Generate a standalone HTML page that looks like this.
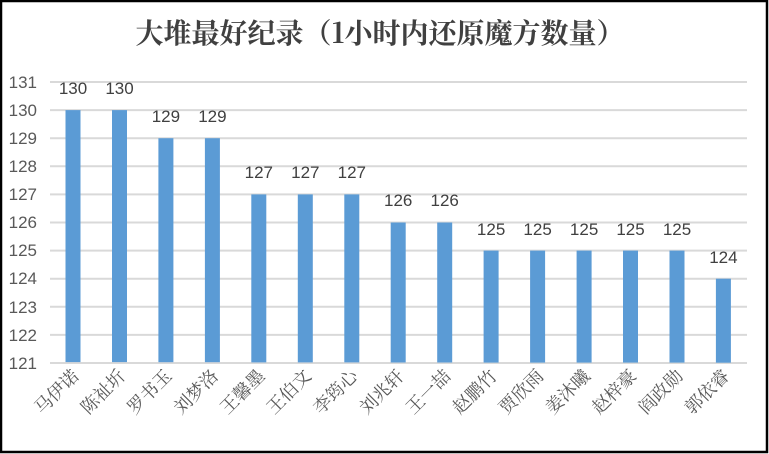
<!DOCTYPE html>
<html><head><meta charset="utf-8"><style>
html,body{margin:0;padding:0;background:#fff}
svg{display:block}
</style></head><body>
<svg width="769" height="454" xmlns="http://www.w3.org/2000/svg">
<rect x="1" y="1" width="766" height="451" fill="#fff" stroke="#000" stroke-width="2.5"/>
<text x="380" y="43" text-anchor="middle" font-family="'Noto Serif CJK SC','Liberation Serif',serif" font-weight="bold" font-size="28" fill="#404040">大堆最好纪录（1小时内还原魔方数量）</text>
<g stroke="#d9d9d9" stroke-width="2">
<line x1="50" x2="747" y1="82" y2="82"/><line x1="50" x2="747" y1="110.1" y2="110.1"/>
<line x1="50" x2="747" y1="138.2" y2="138.2"/><line x1="50" x2="747" y1="166.3" y2="166.3"/>
<line x1="50" x2="747" y1="194.4" y2="194.4"/><line x1="50" x2="747" y1="222.5" y2="222.5"/>
<line x1="50" x2="747" y1="250.6" y2="250.6"/><line x1="50" x2="747" y1="278.7" y2="278.7"/>
<line x1="50" x2="747" y1="306.8" y2="306.8"/><line x1="50" x2="747" y1="334.9" y2="334.9"/>
<line x1="50" x2="747" y1="363" y2="363"/>
</g>
<g font-family="'Liberation Sans',sans-serif" font-size="17" fill="#595959" text-anchor="end">
<text x="37" y="88">131</text><text x="37" y="116">130</text><text x="37" y="144">129</text>
<text x="37" y="172">128</text><text x="37" y="200">127</text><text x="37" y="228">126</text>
<text x="37" y="256">125</text><text x="37" y="284">124</text><text x="37" y="313">123</text>
<text x="37" y="341">122</text><text x="37" y="369">121</text>
</g>
<g fill="#5b9bd5">
<rect x="65.5" y="110.1" width="15" height="252"/>
<rect x="112" y="110.1" width="15" height="252"/>
<rect x="158.4" y="138.2" width="15" height="224"/>
<rect x="204.9" y="138.2" width="15" height="224"/>
<rect x="251.3" y="194.4" width="15" height="168"/>
<rect x="297.8" y="194.4" width="15" height="168"/>
<rect x="344.3" y="194.4" width="15" height="168"/>
<rect x="390.7" y="222.5" width="15" height="140"/>
<rect x="437.2" y="222.5" width="15" height="140"/>
<rect x="483.6" y="250.6" width="15" height="112"/>
<rect x="530.1" y="250.6" width="15" height="112"/>
<rect x="576.6" y="250.6" width="15" height="112"/>
<rect x="623" y="250.6" width="15" height="112"/>
<rect x="669.5" y="250.6" width="15" height="112"/>
<rect x="715.9" y="278.7" width="15" height="84"/>
</g>
<g font-family="'Liberation Sans',sans-serif" font-size="17" fill="#404040" text-anchor="middle">
<text x="73" y="94">130</text><text x="119.5" y="94">130</text>
<text x="165.9" y="122">129</text><text x="212.4" y="122">129</text>
<text x="258.8" y="178">127</text><text x="305.3" y="178">127</text><text x="351.8" y="178">127</text>
<text x="398.2" y="206">126</text><text x="444.7" y="206">126</text>
<text x="491.1" y="235">125</text><text x="537.6" y="235">125</text><text x="584.1" y="235">125</text><text x="630.5" y="235">125</text><text x="677" y="235">125</text>
<text x="723.4" y="263">124</text>
</g>
<g font-family="'Noto Serif CJK SC',serif" font-size="18" fill="#595959" text-anchor="end">
<text transform="translate(80,377) rotate(-45)">马伊诺</text>
<text transform="translate(126.5,377) rotate(-45)">陈祉圻</text>
<text transform="translate(172.9,377) rotate(-45)">罗书玉</text>
<text transform="translate(219.4,377) rotate(-45)">刘梦洛</text>
<text transform="translate(265.8,377) rotate(-45)">王馨墨</text>
<text transform="translate(312.3,377) rotate(-45)">王伯文</text>
<text transform="translate(358.8,377) rotate(-45)">李筠心</text>
<text transform="translate(405.2,377) rotate(-45)">刘兆轩</text>
<text transform="translate(451.7,377) rotate(-45)">王一喆</text>
<text transform="translate(498.1,377) rotate(-45)">赵鹏竹</text>
<text transform="translate(544.6,377) rotate(-45)">贾欣雨</text>
<text transform="translate(591.1,377) rotate(-45)">姜沐曦</text>
<text transform="translate(637.5,377) rotate(-45)">赵梓豪</text>
<text transform="translate(684,377) rotate(-45)">阎政勋</text>
<text transform="translate(730.4,377) rotate(-45)">郭依睿</text>
</g>
</svg>
</body></html>
